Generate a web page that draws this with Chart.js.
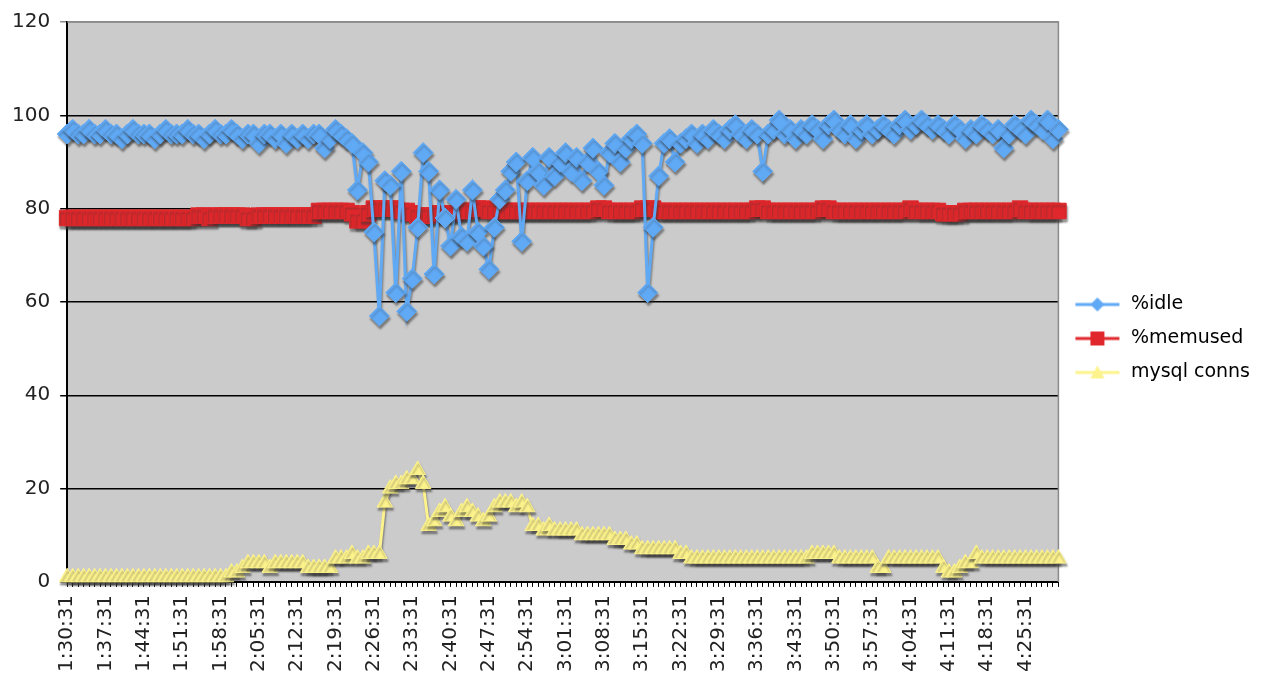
<!DOCTYPE html>
<html lang="en">
<head>
<meta charset="UTF-8">
<title>sar / mysql</title>
<style>
  body { margin: 0; background: #fff; }
  #wrap { width: 1287px; height: 690px; }
</style>
</head>
<body>
<div id="wrap"><canvas id="myChart"></canvas></div>
<script src="https://cdn.jsdelivr.net/npm/chart.js"></script>
<script>
// one sample a minute, 1:30:31 .. 4:31:31
const times = [];
for (let m = 90; m <= 271; m++) {
  times.push(Math.floor(m / 60) + ':' + String(m % 60).padStart(2, '0') + ':31');
}

const idle = [
  96,97,96,96,97,96,96,97,96,96,
  95,96,97,96,96,96,95,96,97,96,
  96,96,97,96,96,95,96,97,96,96,
  97,96,95,96,96,94,96,96,95,96,
  94,96,95,96,95,96,96,93,95,97,
  96,95,94,84,92,90,75,57,86,85,
  62,88,58,65,76,92,88,66,84,78,
  72,82,74,73,84,75,72,67,76,82,
  84,88,90,73,86,91,88,85,91,87,
  90,92,88,91,86,90,93,88,85,92,
  94,90,93,95,96,94,62,76,87,94,
  95,90,94,95,96,94,96,95,97,96,
  95,97,98,96,95,97,96,88,96,97,
  99,96,97,95,97,96,98,97,95,98,
  99,97,96,98,95,97,98,96,97,98,
  97,96,98,99,97,98,99,98,97,98,
  97,96,98,97,95,97,96,98,97,96,
  97,93,96,98,97,96,99,98,97,99,95,97
];

const memused = [
  78,78,78,78,78,78,78,78,78,78,
  78,78,78,78,78,78,78,78,78,78,
  78,78,78,78,78.5,78.5,78,78.5,78.5,78.5,
  78.5,78.5,78.5,78,78,78.5,78.5,78.5,78.5,78.5,
  78.5,78.5,78.5,78.5,78.5,78.5,79.5,79.5,79.5,79.5,
  79.5,79.5,79,77.5,77.5,79,80,80,80,80,
  80,79.5,79.5,79,78.5,78.5,78.5,78.5,79,79,
  79,79,79.5,79.5,79.5,80,80,79.5,79.5,79.5,
  79.5,79.5,79.5,79.5,79.5,79.5,79.5,79.5,79.5,79.5,
  79.5,79.5,79.5,79.5,79.5,79.5,79.5,80,80,79.5,
  79.5,79.5,79.5,79.5,79.5,80,80,80,79.5,79.5,
  79.5,79.5,79.5,79.5,79.5,79.5,79.5,79.5,79.5,79.5,
  79.5,79.5,79.5,79.5,79.5,79.5,80,80,79.5,79.5,
  79.5,79.5,79.5,79.5,79.5,79.5,79.5,79.5,80,80,
  79.5,79.5,79.5,79.5,79.5,79.5,79.5,79.5,79.5,79.5,
  79.5,79.5,79.5,79.5,80,79.5,79.5,79.5,79.5,79.5,
  79,79,79,79,79.5,79.5,79.5,79.5,79.5,79.5,
  79.5,79.5,79.5,79.5,80,79.5,79.5,79.5,79.5,79.5,79.5,79.5
];

const conns = [
  1,1,1,1,1,1,1,1,1,1,
  1,1,1,1,1,1,1,1,1,1,
  1,1,1,1,1,1,1,1,1,1,
  2,2,3,4,4,4,4,3,4,4,
  4,4,4,4,3,3,3,3,3,5,
  5,5,6,5,5,6,6,6,17,20,
  21,21,22,22,24,21,12,13,15,16,
  14,13,15,16,15,14,13,14,16,17,
  17,17,16,17,16,12,12,11,12,11,
  11,11,11,11,10,10,10,10,10,10,
  9,9,9,8,8,7,7,7,7,7,
  7,7,6,6,5,5,5,5,5,5,
  5,5,5,5,5,5,5,5,5,5,
  5,5,5,5,5,5,6,6,6,6,
  6,5,5,5,5,5,5,5,3,3,
  5,5,5,5,5,5,5,5,5,5,
  3,2,2,3,4,4,6,5,5,5,
  5,5,5,5,5,5,5,5,5,5,5,5
];

const yTicks = [0, 20, 40, 60, 80, 100, 120];
const seriesNames = ['%idle', '%memused', 'mysql conns'];
const colors = ['#60a9f5', '#e0282c', '#fdf38c'];

// legend icon: a short line with the marker in the middle
function legendIcon(color, shape) {
  const c = document.createElement('canvas');
  c.width = 48; c.height = 20;
  const g = c.getContext('2d');
  g.strokeStyle = color;
  g.fillStyle = color;
  g.lineWidth = 3;
  g.beginPath(); g.moveTo(2, 10); g.lineTo(46, 10); g.stroke();
  g.beginPath();
  if (shape == 'diamond') {
    g.moveTo(24, 3); g.lineTo(31, 10); g.lineTo(24, 17); g.lineTo(17, 10);
  } else if (shape == 'square') {
    g.rect(17, 3, 14, 14);
  } else {
    g.moveTo(24, 3); g.lineTo(31, 16); g.lineTo(17, 16);
  }
  g.closePath(); g.fill();
  return c;
}
const icons = [legendIcon(colors[0], 'diamond'), legendIcon(colors[1], 'square'), legendIcon(colors[2], 'tri')];

const plotBg = {
  id: 'plotBg',
  beforeDraw(chart) {
    const {ctx, chartArea: a} = chart;
    ctx.save();
    ctx.fillStyle = '#cbcbcb';
    ctx.fillRect(a.left, a.top, a.right - a.left, a.bottom - a.top);
    ctx.restore();
  },
  beforeDatasetsDraw(chart) {
    const {ctx, chartArea: a} = chart;
    ctx.save();
    ctx.strokeStyle = '#8a8a8a';
    ctx.lineWidth = 1.5;
    ctx.beginPath();
    ctx.moveTo(a.left, a.top); ctx.lineTo(a.right, a.top); ctx.lineTo(a.right, a.bottom);
    ctx.stroke();
    ctx.restore();
  }
};

// excel style drop shadow under each series
const shadow = {
  id: 'shadow',
  beforeDatasetDraw(chart) {
    const ctx = chart.ctx;
    ctx.save();
    ctx.shadowColor = 'rgba(50,50,50,0.5)';
    ctx.shadowOffsetX = 1;
    ctx.shadowOffsetY = 3;
    ctx.shadowBlur = 2;
  },
  afterDatasetDraw(chart) {
    chart.ctx.restore();
  }
};

const ctx = document.getElementById('myChart');
new Chart(ctx, {
  type: 'line',
  data: {
    labels: times,
    datasets: [
      { label: seriesNames[0], data: idle, borderColor: colors[0], backgroundColor: colors[0],
        borderWidth: 3, pointStyle: 'rectRot', pointRadius: 10, pointBorderWidth: 1, clip: false },
      { label: seriesNames[1], data: memused, borderColor: colors[1], backgroundColor: colors[1],
        borderWidth: 5, pointStyle: 'rect', pointRadius: 11, pointBorderWidth: 1, clip: false },
      { label: seriesNames[2], data: conns, borderColor: colors[2], backgroundColor: colors[2],
        borderWidth: 3, pointStyle: 'triangle', pointRadius: 9, pointBorderWidth: 1, clip: false }
    ]
  },
  options: {
    responsive: true,
    maintainAspectRatio: false,
    animation: false,
    layout: { padding: { top: -3, left: 2, right: 27, bottom: 10 } },
    scales: {
      x: {
        offset: false,
        border: { color: '#000', width: 2 },
        grid: { drawOnChartArea: false, color: '#000', tickLength: 5, lineWidth: 1 },
        ticks: {
          autoSkip: false, maxRotation: 90, minRotation: 90, padding: 8,
          color: '#222', font: { family: 'DejaVu Sans', size: 20 },
          callback: function (v, i) { return i % 7 == 0 ? times[i] : ''; }
        }
      },
      y: {
        min: 0, max: 120,
        afterBuildTicks: function (axis) { axis.ticks = yTicks.map(v => ({ value: v })); },
        border: { color: '#000', width: 2 },
        grid: {
          color: c => c.tick && c.tick.value == 120 ? '#8a8a8a' : '#000',
          lineWidth: 1.5, tickLength: 7
        },
        ticks: { padding: 10, color: '#222', font: { family: 'DejaVu Sans', size: 20 } }
      }
    },
    plugins: {
      tooltip: { enabled: false },
      legend: {
        position: 'right',
        labels: {
          usePointStyle: true,
          pointStyleWidth: 48,
          padding: 15,
          color: '#222',
          font: { family: 'DejaVu Sans', size: 19 },
          generateLabels: function (chart) {
            return chart.data.datasets.map((ds, i) => ({
              text: ds.label, pointStyle: icons[i], fillStyle: colors[i],
              strokeStyle: colors[i], lineWidth: 0, hidden: false, datasetIndex: i
            }));
          }
        }
      }
    }
  },
  plugins: [plotBg, shadow]
});
</script>
</body>
</html>
